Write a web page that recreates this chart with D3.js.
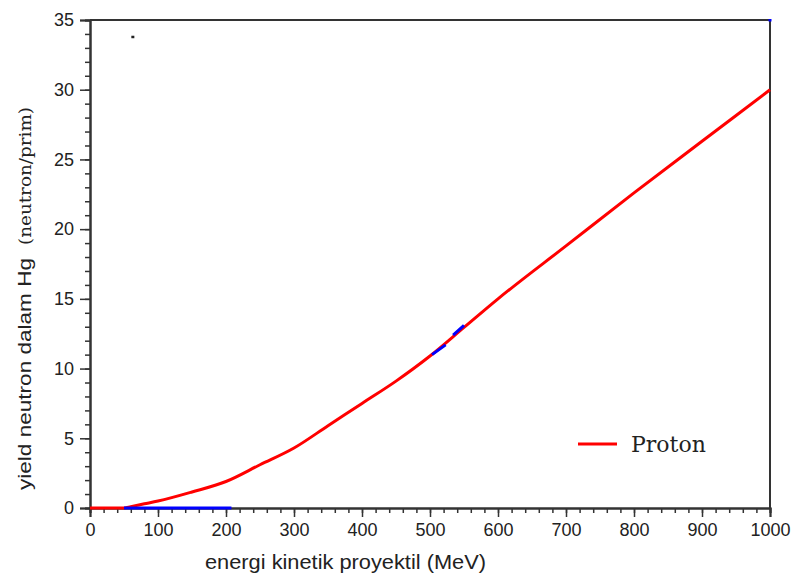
<!DOCTYPE html>
<meta charset="utf-8">
<style>
  body { margin: 0; background: #fff; }
  text { fill: #222; }
</style>
<body>
<script src="https://cdn.jsdelivr.net/npm/d3@7"></script>
<script>
  // proton yield curve (MeV, neutron/prim)
  var protonE = [0, 50, 60, 80, 100, 150, 200, 250, 300, 350, 400, 450, 500, 550, 600, 700, 800, 900, 1000];
  var protonY = [0, 0, 0.1, 0.3, 0.5, 1.15, 1.9, 3.1, 4.3, 5.9, 7.5, 9.1, 10.9, 12.95, 15.0, 18.8, 22.6, 26.3, 30.0];

  // blue pieces, null = gap
  var blueE = [50, 208, null, 503, 523, null, 534, 550];
  var blueY = [0, 0, null, 11.0, 11.7, null, 12.4, 13.1];

  // stray points
  var dotE = [63, 1000];
  var dotY = [33.8, 35];
  var dotColor = ["#222", "#0000ff"];

  var xTicks = [0, 100, 200, 300, 400, 500, 600, 700, 800, 900, 1000];
  var yTicks = [0, 5, 10, 15, 20, 25, 30, 35];

  var width = 792, height = 573;
  var mLeft = 90, mTop = 20, plotW = 680, plotH = 488;

  var svg = d3.select("body").append("svg")
    .attr("width", width)
    .attr("height", height);

  var x = d3.scaleLinear().domain([0, 1000]).range([mLeft, mLeft + plotW]);
  var y = d3.scaleLinear().domain([0, 35]).range([mTop + plotH, mTop]);

  // frame top + right
  svg.append("path")
    .attr("d", "M" + x(0) + "," + y(35) + "H" + x(1000) + "V" + y(0))
    .attr("fill", "none")
    .attr("stroke", "#333")
    .attr("stroke-width", 2);

  // minor ticks
  var xAxisMinor = d3.axisBottom(x).tickValues(d3.range(0, 1001, 20)).tickSize(5).tickFormat("");
  var yAxisMinor = d3.axisLeft(y).tickValues(d3.range(0, 36, 1)).tickSize(5).tickFormat("");
  svg.append("g").attr("transform", "translate(0," + y(0) + ")").call(xAxisMinor);
  svg.append("g").attr("transform", "translate(" + x(0) + ",0)").call(yAxisMinor);

  // major ticks + labels
  var xAxis = d3.axisBottom(x).tickValues(xTicks).tickSize(9).tickPadding(6).tickFormat(d3.format("d"));
  var yAxis = d3.axisLeft(y).tickValues(yTicks).tickSize(10).tickPadding(6).tickFormat(d3.format("d"));
  svg.append("g").attr("class", "ax").attr("transform", "translate(0," + y(0) + ")").call(xAxis);
  svg.append("g").attr("class", "ax").attr("transform", "translate(" + x(0) + ",0)").call(yAxis);

  svg.selectAll("g .domain").attr("stroke", "#333").attr("stroke-width", 2);
  svg.selectAll("g .tick line").attr("stroke", "#333").attr("stroke-width", 1.5);
  svg.selectAll(".ax .tick text")
    .attr("font-family", "Liberation Sans, sans-serif")
    .attr("font-size", 18)
    .attr("fill", "#333");

  // curves
  var line = d3.line()
    .defined(function(d) { return d[0] !== null; })
    .x(function(d) { return x(d[0]); })
    .y(function(d) { return y(d[1]); });

  svg.append("path")
    .datum(protonE.map(function(e, i) { return [e, protonY[i]]; }))
    .attr("d", line.curve(d3.curveMonotoneX))
    .attr("fill", "none")
    .attr("stroke", "#ff0000")
    .attr("stroke-width", 3);

  line.curve(d3.curveLinear);
  svg.append("path")
    .datum(blueE.map(function(e, i) { return [e, blueY[i]]; }))
    .attr("d", line)
    .attr("fill", "none")
    .attr("stroke", "#0000ff")
    .attr("stroke-width", 3);

  svg.selectAll(".dot")
    .data(dotE)
    .enter().append("rect")
    .attr("x", function(d) { return x(d) - 1.5; })
    .attr("y", function(d, i) { return y(dotY[i]) - 1; })
    .attr("width", 3)
    .attr("height", 2.5)
    .attr("fill", function(d, i) { return dotColor[i]; });

  // axis titles
  svg.append("text")
    .attr("x", 205)
    .attr("y", 569)
    .attr("font-family", "Liberation Sans, sans-serif")
    .attr("font-size", 19.5)
    .attr("textLength", 281)
    .attr("lengthAdjust", "spacingAndGlyphs")
    .text("energi kinetik proyektil (MeV)");

  svg.append("text")
    .attr("transform", "translate(31,490) rotate(-90)")
    .attr("font-family", "Liberation Sans, sans-serif")
    .attr("font-size", 19)
    .attr("textLength", 232)
    .attr("lengthAdjust", "spacingAndGlyphs")
    .text("yield neutron dalam Hg");

  svg.append("text")
    .attr("transform", "translate(31,245) rotate(-90)")
    .attr("font-family", "DejaVu Serif, serif")
    .attr("font-size", 17)
    .attr("textLength", 138)
    .attr("lengthAdjust", "spacingAndGlyphs")
    .text("(neutron/prim)");

  // legend
  svg.append("line")
    .attr("x1", 578).attr("x2", 617)
    .attr("y1", 444).attr("y2", 444)
    .attr("stroke", "#ff0000")
    .attr("stroke-width", 3);
  svg.append("text")
    .attr("x", 631)
    .attr("y", 452)
    .attr("font-family", "DejaVu Serif, serif")
    .attr("font-size", 22)
    .text("Proton");
</script>
</body>
